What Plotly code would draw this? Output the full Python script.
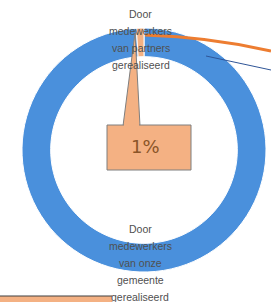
import plotly.graph_objects as go

W, H = 271, 302

categories = ["Door medewerkers van onze gemeente gerealiseerd",
              "Door medewerkers van partners gerealiseerd"]
values = [99, 1]
colors = ["#4A90DC", "#F4B183"]
callout_text = "1%"
top_label_lines = ["Door", "medewerkers", "van partners", "gerealiseerd"]
bottom_label_lines = ["Door", "medewerkers", "van onze", "gemeente", "gerealiseerd"]


def px(x):
    return x / W


def py(y):
    return 1 - y / H


cx, cy, r = 144, 150, 122

fig = go.Figure(go.Pie(
    labels=categories,
    values=values,
    sort=False,
    direction="clockwise",
    rotation=0,
    hole=0.765,
    marker=dict(colors=colors, line=dict(color="white", width=1)),
    textinfo="none",
    hoverinfo="label+percent",
    showlegend=False,
    domain=dict(x=[px(cx - r), px(cx + r)], y=[py(cy + r), py(cy - r)]),
))

shapes = []
# decorative lines from neighbouring chart elements (cropped)
shapes.append(dict(type="path", xref="paper", yref="paper",
                   path=f"M {px(145)},{py(35)} Q {px(210)},{py(37)} {px(271)},{py(51)}",
                   line=dict(color="#ED7D31", width=3)))
shapes.append(dict(type="line", xref="paper", yref="paper",
                   x0=px(206), y0=py(56), x1=px(271), y1=py(70),
                   line=dict(color="#2F5597", width=1)))
shapes.append(dict(type="rect", xref="paper", yref="paper",
                   x0=px(-2), y0=py(303), x1=px(112), y1=py(296),
                   fillcolor="#F4B183", line=dict(width=0)))
shapes.append(dict(type="line", xref="paper", yref="paper",
                   x0=px(0), y0=py(296), x1=px(112), y1=py(296),
                   line=dict(color="#404040", width=1.2)))
# callout pointer + box
shapes.append(dict(type="path", xref="paper", yref="paper",
                   path=(f"M {px(123)},{py(126)} L {px(135)},{py(33)} "
                         f"L {px(140)},{py(126)} Z"),
                   fillcolor="#F4B183", line=dict(color="#7F7F7F", width=1)))
shapes.append(dict(type="rect", xref="paper", yref="paper",
                   x0=px(107), y0=py(170), x1=px(191), y1=py(125),
                   fillcolor="#F4B183", line=dict(color="#7F7F7F", width=1)))
shapes.append(dict(type="line", xref="paper", yref="paper",
                   x0=px(124), y0=py(125), x1=px(139), y1=py(125),
                   line=dict(color="#F4B183", width=2)))

annotations = []
annotations.append(dict(xref="paper", yref="paper", x=px(145), y=py(147),
                        text=callout_text, showarrow=False,
                        font=dict(family="DejaVu Sans", size=18, color="#8A5528"),
                        xanchor="center", yanchor="middle"))
for i, line in enumerate(top_label_lines):
    annotations.append(dict(xref="paper", yref="paper", x=px(141), y=py(14 + 17 * i),
                            text=line, showarrow=False,
                            font=dict(family="Liberation Sans", size=10.5, color="#505050"),
                            xanchor="center", yanchor="middle"))
for i, line in enumerate(bottom_label_lines):
    annotations.append(dict(xref="paper", yref="paper", x=px(140), y=py(229 + 17 * i),
                            text=line, showarrow=False,
                            font=dict(family="Liberation Sans", size=10.5, color="#505050"),
                            xanchor="center", yanchor="middle"))

fig.update_layout(
    width=W, height=H,
    margin=dict(l=0, r=0, t=0, b=0),
    paper_bgcolor="white", plot_bgcolor="white",
    shapes=shapes, annotations=annotations,
)

fig.write_html("out.html", config={"displayModeBar": False})

# remove the browser's default body margin so the figure sits at the page origin
with open("out.html", "r", encoding="utf-8") as f:
    html = f.read()
html = html.replace("<head>", "<head><style>html,body{margin:0;padding:0;overflow:hidden;}</style>", 1)
with open("out.html", "w", encoding="utf-8") as f:
    f.write(html)
